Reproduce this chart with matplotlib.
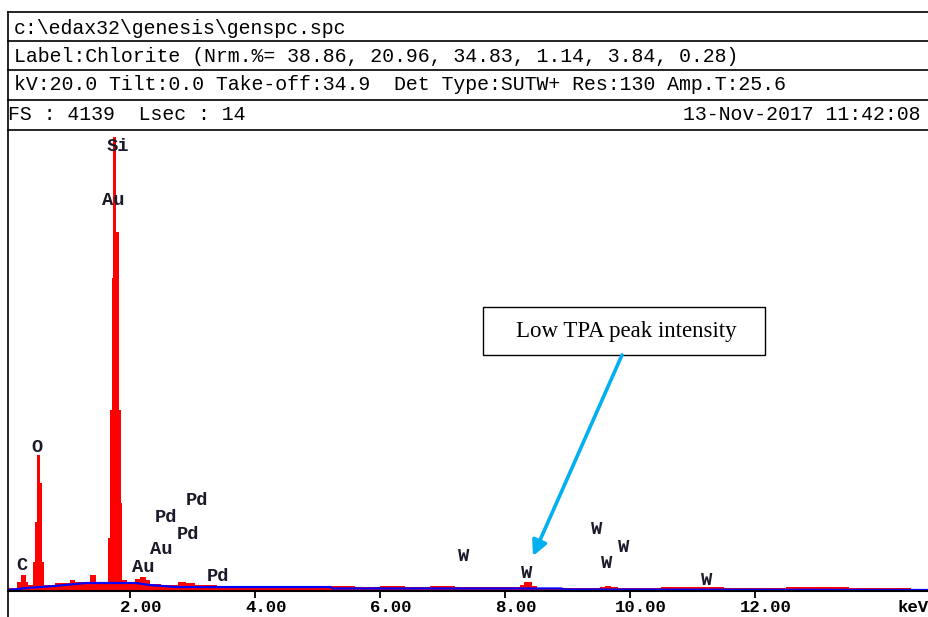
import matplotlib.pyplot as plt
import matplotlib.transforms as mtransforms
from matplotlib.lines import Line2D
from matplotlib.patches import Rectangle

plt.rcParams['font.family'] = ['Liberation Mono', 'DejaVu Sans Mono']

# spectrum channels (keV edges) and counts
edges = [0.048, 0.19, 0.26, 0.33, 0.37, 0.45, 0.48, 0.51, 0.56, 0.59, 0.63,
         0.80, 1.04, 1.12, 1.36, 1.46, 1.653, 1.68, 1.707, 1.736, 1.784,
         1.824, 1.856, 1.877, 1.947, 2.08, 2.16, 2.26, 2.32, 2.50, 2.77,
         2.90, 3.04, 3.40, 3.70, 4.08, 4.50, 5.20, 5.60, 6.00, 6.40, 6.80,
         7.20, 7.60, 8.24, 8.30, 8.44, 8.52, 9.00, 9.52, 9.60, 9.70, 9.80,
         10.50, 11.50, 12.50, 13.50, 14.50]
counts = [27, 82, 146, 82, 55, 264, 629, 1240, 985, 264,
          55, 73, 100, 82, 146, 82, 483, 1650, 2853, 4139,
          3273, 1650, 802, 100, 82, 110, 128, 100, 64, 55,
          82, 73, 55, 50, 46, 46, 41, 46, 41, 46, 41,
          46, 36, 41, 55, 82, 46, 27, 23, 41, 50, 36,
          30, 32, 30, 32, 27]

# fitted background
bg_kev = [0.048, 0.35, 0.80, 1.30, 2.10, 2.30, 2.75, 5.20, 5.25, 8.90, 8.95, 14.78]
bg_counts = [9, 27, 46, 73, 73, 55, 36, 36, 23, 23, 14, 9]

# peak labels
peak_names = ['Si', 'Au', 'O', 'C', 'Au', 'Au', 'Pd', 'Pd', 'Pd', 'Pd',
              'W', 'W', 'W', 'W', 'W', 'W']
peak_kev = [1.81, 1.74, 0.51, 0.27, 2.21, 2.50, 2.58, 2.93, 3.07, 3.41,
            7.34, 8.35, 9.47, 9.90, 9.63, 11.23]
peak_y = [4054, 3562, 1312, 228, 210, 374, 674, 519, 829, 128,
          319, 164, 565, 401, 255, 100]

header = [
    'c:\\edax32\\genesis\\genspc.spc',
    'Label:Chlorite (Nrm.%= 38.86, 20.96, 34.83, 1.14, 3.84, 0.28)',
    'kV:20.0 Tilt:0.0 Take-off:34.9  Det Type:SUTW+ Res:130 Amp.T:25.6',
]
fs_text = 'FS : 4139  Lsec : 14'
date_text = '13-Nov-2017 11:42:08'

W, H = 929, 617
fig = plt.figure(figsize=(W / 100, H / 100), dpi=100)


def fx(px):
    return px / W


def fy(py):
    return 1 - py / H


# header frame
for yline in [12, 41, 70, 100, 130]:
    fig.add_artist(Line2D([fx(8), 1], [fy(yline), fy(yline)],
                          transform=fig.transFigure, color='black', lw=1.2))
fig.add_artist(Line2D([fx(8), fx(8)], [fy(12), 0],
                      transform=fig.transFigure, color='black', lw=1.2))

for line, yc in zip(header, [28, 56, 85]):
    fig.text(fx(14), fy(yc), line, fontsize=14.3, va='center', ha='left')
fig.text(fx(8), fy(115), fs_text, fontsize=14.3, va='center', ha='left')
fig.text(fx(921), fy(115), date_text, fontsize=14.3, va='center', ha='right')

ax = fig.add_axes([fx(8), fy(591), fx(921), (591 - 130) / H])
ax.stairs(counts, edges, fill=True, color='#ff0000', baseline=0)
ax.plot(bg_kev, bg_counts, color='#0000ff', lw=1.6)

ax.set_xlim(0.048, 14.784)
ax.set_ylim(0, 4203)
for side in ['top', 'right', 'left']:
    ax.spines[side].set_visible(False)
ax.spines['bottom'].set_linewidth(1.5)
ax.set_yticks([])
ax.set_xticks([2, 4, 6, 8, 10, 12])
ax.set_xticklabels(['2.00', '4.00', '6.00', '8.00', '10.00', '12.00'],
                   fontsize=12.5, fontweight='bold')
ax.tick_params(axis='x', direction='out', length=5, width=1.3, pad=0)
shift = mtransforms.ScaledTranslation(11 / 100, -2 / 100, fig.dpi_scale_trans)
for lbl in ax.get_xticklabels():
    lbl.set_transform(lbl.get_transform() + shift)
fig.text(fx(929), fy(607), 'keV', fontsize=12.5, fontweight='bold',
         ha='right', va='center')

for name, xk, yk in zip(peak_names, peak_kev, peak_y):
    ax.text(xk, yk, name, fontsize=13.5, fontweight='bold', ha='center',
            va='center', color='#1a1a2a')

# callout box with arrow to the W peak
ax.add_patch(Rectangle((7.648, 2152), 12.16 - 7.648, 2589 - 2152,
                       facecolor='white', edgecolor='black', lw=1.0))
ax.text(9.936, 2370, 'Low TPA peak intensity', family='Liberation Serif',
        fontsize=16.5, ha='center', va='center')
ax.annotate('', xy=(8.448, 319), xytext=(9.872, 2152),
            arrowprops=dict(arrowstyle='-|>,head_length=0.9,head_width=0.45',
                            color='#00b0f0', lw=2.6, shrinkA=0, shrinkB=0))

fig.savefig('out.png', dpi=100)
